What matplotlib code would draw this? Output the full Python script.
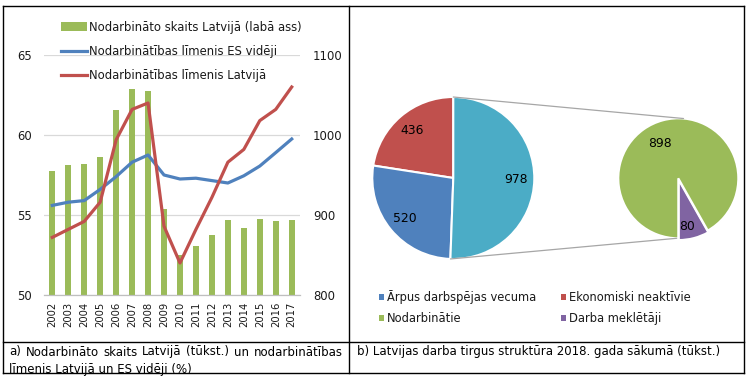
import matplotlib
matplotlib.use("Agg")
import matplotlib.pyplot as plt
from matplotlib.lines import Line2D
from matplotlib.patches import Patch, ConnectionPatch
import numpy as np

# ---------------- data ----------------
years = ["2002", "2003", "2004", "2005", "2006", "2007", "2008", "2009",
         "2010", "2011", "2012", "2013", "2014", "2015", "2016", "2017"]
employed_lv = [955, 962, 964, 972, 1031, 1057, 1055, 907,
               850, 861, 875, 894, 884, 895, 893, 894]          # right axis (tūkst.)
rate_eu = [55.6, 55.8, 55.9, 56.6, 57.4, 58.3, 58.75, 57.5,
           57.25, 57.3, 57.15, 57.0, 57.45, 58.06, 58.9, 59.75]
rate_lv = [53.6, 54.1, 54.6, 55.8, 59.7, 61.6, 62.0, 54.3,
           52.0, 54.1, 56.1, 58.3, 59.1, 60.9, 61.6, 63.0]

left_ticks = [50, 55, 60, 65]
right_ticks = [800, 900, 1000, 1100]

main_labels = ["Ekonomiski neaktīvie", "Ārpus darbspējas vecuma", "Citi"]
main_values = [436, 520, 978]
sub_labels = ["Darba meklētāji", "Nodarbinātie"]
sub_values = [80, 898]

legend_a = ["Nodarbināto skaits Latvijā (labā ass)",
            "Nodarbinātības līmenis ES vidēji",
            "Nodarbinātības līmenis Latvijā"]
legend_b = ["Ārpus darbspējas vecuma", "Nodarbinātie",
            "Ekonomiski neaktīvie", "Darba meklētāji"]
caption_a1 = "a) Nodarbināto skaits Latvijā (tūkst.) un nodarbinātības"
caption_a2 = "līmenis Latvijā un ES vidēji (%)"
caption_b = "b) Latvijas darba tirgus struktūra 2018. gada sākumā (tūkst.)"

# ---------------- style ----------------
GREEN = "#9BBB59"
BLUE = "#4F81BD"
RED = "#C0504D"
TEAL = "#4BACC6"
PURPLE = "#8064A2"
GRID = "#D9D9D9"
TXT = "#1a1a1a"

plt.rcParams["font.family"] = ["DejaVu Sans"]

W, H = 748, 379
fig = plt.figure(figsize=(W / 100, H / 100), dpi=100)


def fx(px):
    return px / W


def fy(py):
    return 1 - py / H


# ---------------- table borders ----------------
border_kw = dict(color="black", lw=1.0, transform=fig.transFigure)
L, R, T, B = 2.7, 744.3, 6, 373.3
for (x0, y0, x1, y1) in [(L, T, R, T), (L, B, R, B), (L, T, L, B), (R, T, R, B),
                         (349.3, T, 349.3, B), (L, 341.7, R, 341.7)]:
    fig.add_artist(Line2D([fx(x0), fx(x1)], [fy(y0), fy(y1)], **border_kw))

# ---------------- left chart ----------------
ax = fig.add_axes([fx(44.3), fy(295), fx(299.7) - fx(44.3), fy(55) - fy(295)])
ax2 = ax.twinx()
x = np.arange(len(years))

ax.set_zorder(ax2.get_zorder() + 1)
ax.patch.set_visible(False)

ax2.bar(x, employed_lv, width=0.38, color=GREEN, zorder=2)
ax2.set_ylim(800, 1100)
ax2.set_yticks(right_ticks)
ax.plot(x, rate_eu, color=BLUE, lw=2.3, zorder=3, solid_joinstyle="round")
ax.plot(x, rate_lv, color=RED, lw=2.3, zorder=4, solid_joinstyle="round")
ax.set_ylim(50, 65)
ax.set_yticks(left_ticks)
ax.set_xlim(-0.5, len(years) - 0.5)
ax.set_xticks(x)
ax.set_xticklabels(years, rotation=90, fontsize=7.2, color=TXT)

for a in (ax, ax2):
    for s in a.spines.values():
        s.set_visible(False)
ax2.grid(axis="y", color=GRID, lw=0.9, zorder=0)
ax2.set_axisbelow(True)
ax.spines["bottom"].set_visible(True)
ax.spines["bottom"].set_color("#BFBFBF")
ax.spines["bottom"].set_linewidth(0.9)
ax.tick_params(axis="y", length=0, pad=9.2, labelsize=8.4, labelcolor=TXT)
ax.tick_params(axis="x", length=0, pad=4.6)
ax2.tick_params(axis="y", length=0, pad=9.6, labelsize=8.4, labelcolor=TXT)

handles_a = [Patch(facecolor=GREEN, edgecolor="none"),
             Line2D([], [], color=BLUE, lw=2.3),
             Line2D([], [], color=RED, lw=2.3)]
fig.legend(handles_a, legend_a, loc="upper left",
           bbox_to_anchor=(fx(61), fy(20.5)), frameon=False, fontsize=8.35,
           borderpad=0, borderaxespad=0, handlelength=2.25, handletextpad=0.2,
           labelspacing=0.98, labelcolor=TXT)

# ---------------- right chart: pie of pie ----------------
cx, cy, r = 453.3, 178, 81
axp = fig.add_axes([fx(cx - r), fy(cy + r), fx(2 * r), fy(0) - fy(2 * r)])
wedges, texts, autot = axp.pie(main_values, colors=[RED, BLUE, TEAL],
                               startangle=90, counterclock=True,
                               autopct=lambda p: "", pctdistance=0.78,
                               wedgeprops=dict(edgecolor="white", linewidth=1.5))
axp.set_xlim(-1, 1)
axp.set_ylim(-1, 1)
for t, v in zip(autot, main_values):
    t.set_text(str(v))
    t.set_fontsize(8.9)
    t.set_color("black")

cx2, cy2, r2 = 678.3, 178.3, 60
axs = fig.add_axes([fx(cx2 - r2), fy(cy2 + r2), fx(2 * r2), fy(0) - fy(2 * r2)])
w2, t2, a2 = axs.pie(sub_values, colors=[PURPLE, GREEN], startangle=270,
                     counterclock=True, explode=[0.03, 0],
                     autopct=lambda p: "", pctdistance=0.8,
                     wedgeprops=dict(edgecolor="white", linewidth=1.5))
axs.set_xlim(-1, 1)
axs.set_ylim(-1, 1)
for t, v in zip(a2, sub_values):
    t.set_text(str(v))
    t.set_fontsize(8.9)
    t.set_color("black")
a2[0].set_position((0.14, -0.8))
a2[1].set_position((-0.3, 0.58))

# connectors
for angA, angB in [(90, 85), (268, 268.5)]:
    pa = (np.cos(np.radians(angA)), np.sin(np.radians(angA)))
    pb = (np.cos(np.radians(angB)), np.sin(np.radians(angB)))
    cp = ConnectionPatch(xyA=pa, coordsA=axp.transData, xyB=pb,
                         coordsB=axs.transData, color="#A6A6A6", lw=0.9)
    fig.add_artist(cp)

handles_b = [Patch(facecolor=BLUE), Patch(facecolor=GREEN),
             Patch(facecolor=RED), Patch(facecolor=PURPLE)]
fig.legend(handles_b, legend_b, loc="upper left", ncol=2,
           bbox_to_anchor=(fx(378.5), fy(290)), frameon=False, fontsize=8.3,
           borderpad=0, borderaxespad=0, handlelength=0.45, handleheight=0.45,
           handletextpad=0.3, labelspacing=0.69, columnspacing=2.1,
           labelcolor=TXT)

# ---------------- captions ----------------
cap_fs = 8.45
fig.text(fx(357.3), fy(352), caption_b, fontsize=cap_fs, va="center",
         ha="left", color="black")
fig.text(fx(9), fy(369), caption_a2, fontsize=cap_fs, va="center",
         ha="left", color="black")

# justified first line of caption a
renderer = fig.canvas.get_renderer()
words = caption_a1.split(" ")
tmp = [fig.text(0, 0, w_, fontsize=cap_fs) for w_ in words]
widths = [t.get_window_extent(renderer).width for t in tmp]
for t in tmp:
    t.remove()
x_start, x_end = 9, 342.7
gap = (x_end - x_start - sum(widths)) / (len(words) - 1)
xp = x_start
for w_, wd in zip(words, widths):
    fig.text(fx(xp), fy(352), w_, fontsize=cap_fs, va="center", ha="left",
             color="black")
    xp += wd + gap

fig.savefig("out.png", dpi=100)
